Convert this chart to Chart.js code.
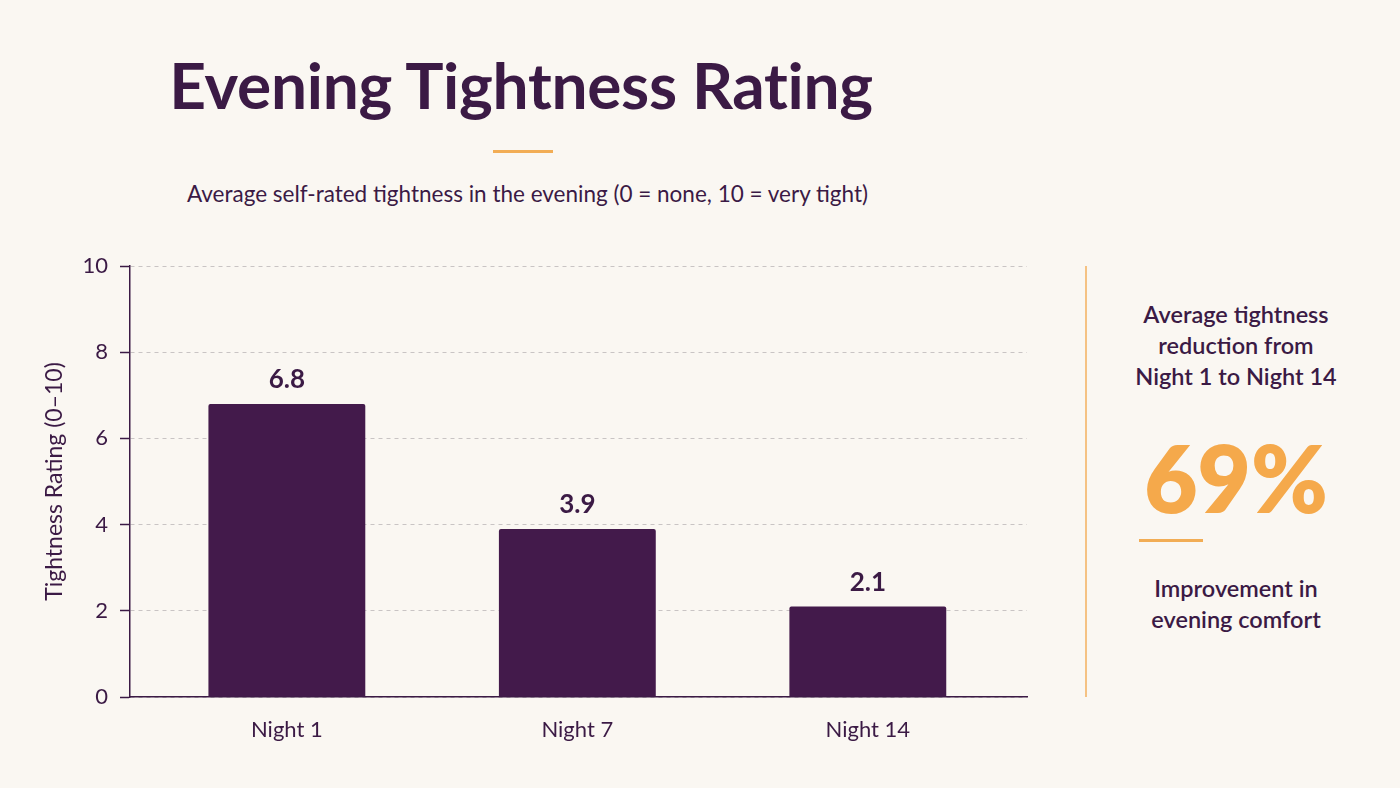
<!DOCTYPE html>
<html>
<head>
<meta charset="utf-8">
<script src="https://cdn.jsdelivr.net/npm/chart.js@4.4.1/dist/chart.umd.min.js"></script>
<style>
  html, body { margin: 0; padding: 0; }
  body {
    width: 1400px; height: 788px; overflow: hidden;
    background: #faf7f2; position: relative;
    font-family: 'Lato', 'Noto Sans', sans-serif; color: #3b1a45;
  }
  .title {
    position: absolute; left: 0; width: 1042px; top: 46px;
    text-align: center; font-size: 64px; font-weight: 700; letter-spacing: -0.3px;
  }
  .rule { position: absolute; background: #f2ad55; height: 3px; }
  .subtitle {
    position: absolute; left: 0; width: 1055px; top: 180px;
    text-align: center; font-size: 22.5px;
  }
  #wrap { position: absolute; left: 0; top: 0; width: 1040px; height: 788px; }
  .side { position: absolute; left: 1086px; width: 300px; text-align: center; }
  .vline { position: absolute; left: 1085px; top: 266px; width: 2px; height: 431px; background: #f5c283; }
  .side-top { top: 299px; font-size: 23.5px; line-height: 31px; font-weight: 600; }
  .big { top: 426px; font-size: 92px; font-weight: 800; color: #f5a94b; line-height: 104px; }
  .side-bot { top: 573px; font-size: 23.5px; line-height: 31px; font-weight: 600; }
</style>
</head>
<body>
<div class="title">Evening Tightness Rating</div>
<div class="rule" style="left:493px; top:150px; width:60px;"></div>
<div class="subtitle">Average self-rated tightness in the evening (0 = none, 10 = very tight)</div>

<div id="wrap"><canvas id="chart"></canvas></div>

<div class="vline"></div>
<div class="side side-top">Average tightness<br>reduction from<br>Night 1 to Night 14</div>
<div class="side big">69%</div>
<div class="rule" style="left:1139px; top:539px; width:64px;"></div>
<div class="side side-bot">Improvement in<br>evening comfort</div>

<script>
const nights = ['Night 1', 'Night 7', 'Night 14'];
const ratings = [6.8, 3.9, 2.1];
const yTicks = [0, 2, 4, 6, 8, 10];

const ink = '#3b1a45';
const barColor = '#431a4b';

// value labels above each bar
const valueLabels = {
    id: 'valueLabels',
    afterDatasetsDraw(chart) {
        const ctx = chart.ctx;
        const meta = chart.getDatasetMeta(0);
        ctx.save();
        ctx.font = '700 26px Lato, "Noto Sans", sans-serif';
        ctx.fillStyle = ink;
        ctx.textAlign = 'center';
        ctx.textBaseline = 'bottom';
        meta.data.forEach((bar, i) => {
            ctx.fillText(ratings[i].toFixed(1), bar.x, bar.y - 11);
        });
        ctx.restore();
    }
};

// x is a linear index axis so the bars sit a little inside the plot, like the original
new Chart(document.getElementById('chart'), {
    type: 'bar',
    data: {
        datasets: [{
            data: ratings.map((v, i) => ({ x: i, y: v })),
            backgroundColor: barColor,
            borderRadius: 2,
            borderSkipped: 'bottom',
            barPercentage: 0.54,
            categoryPercentage: 1
        }]
    },
    options: {
        responsive: true,
        maintainAspectRatio: false,
        animation: false,
        layout: { padding: { left: 0, top: 266, right: 13, bottom: 0 } },
        plugins: { legend: { display: false }, tooltip: { enabled: false } },
        scales: {
            x: {
                type: 'linear',
                offset: false,
                min: -0.54,
                max: 2.548,
                afterBuildTicks(scale) { scale.ticks = nights.map((n, i) => ({ value: i })); },
                grid: { display: false },
                border: { color: ink, width: 1.5 },
                ticks: {
                    color: ink, padding: 12, font: { family: 'Lato', size: 22 },
                    callback: (v) => nights[v]
                },
                afterFit(scale) { scale.height = 91; }
            },
            y: {
                min: 0,
                max: 10,
                afterBuildTicks(scale) { scale.ticks = yTicks.map(v => ({ value: v })); },
                grid: {
                    color: '#c9c4c4',
                    lineWidth: 1,
                    tickLength: 10,
                    tickColor: ink,
                    tickWidth: 1.5,
                    tickBorderDash: []
                },
                border: { color: ink, width: 1.5, dash: [4, 4] },
                ticks: { color: ink, padding: 12, font: { family: 'Lato', size: 22 } },
                title: {
                    display: true,
                    text: 'Tightness Rating (0–10)',
                    color: ink,
                    font: { family: 'Lato', size: 23 },
                    padding: { top: 41, bottom: 0 }
                },
                afterFit(scale) { scale.width = 130; }
            }
        }
    },
    plugins: [valueLabels]
});
</script>
</body>
</html>
